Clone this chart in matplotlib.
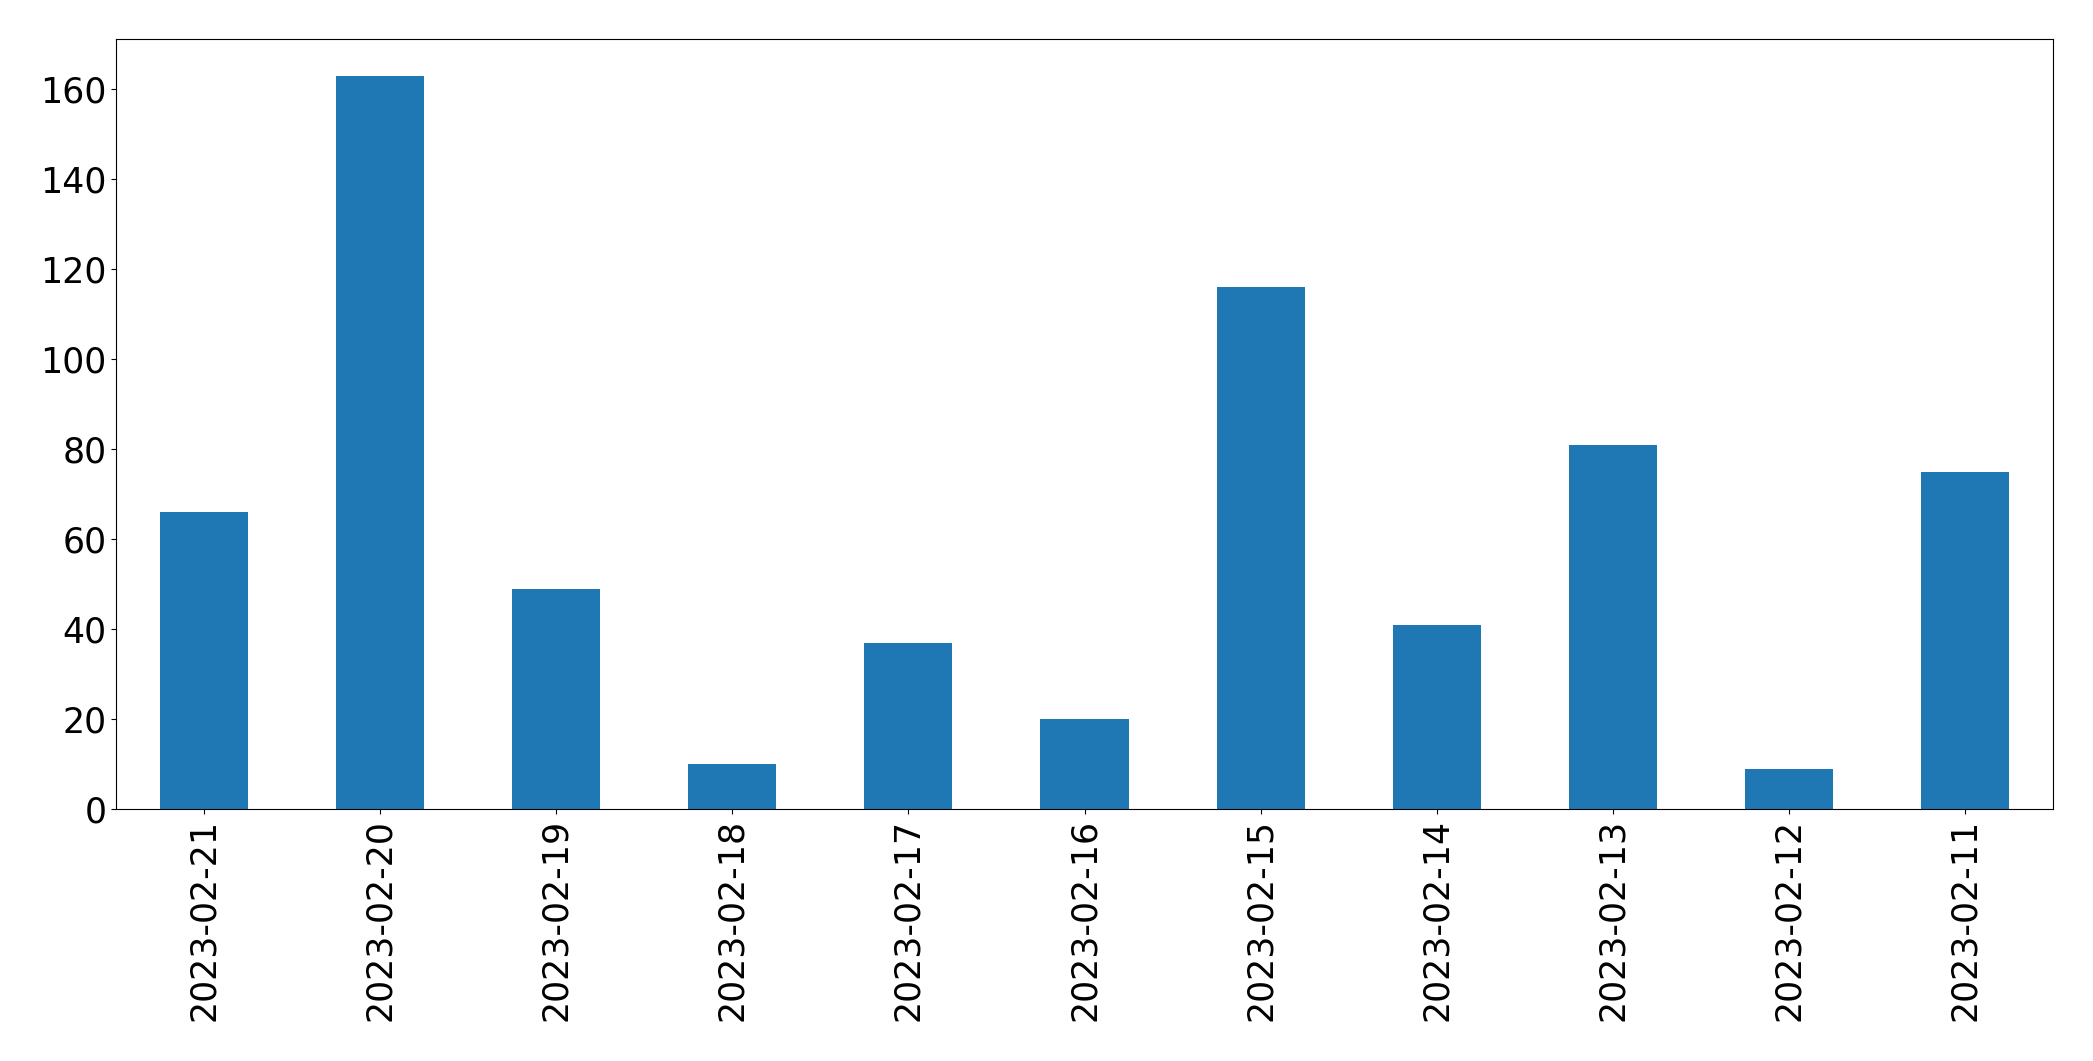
import pandas as pd
import matplotlib
matplotlib.use("Agg")
import matplotlib.pyplot as plt

dates = ["2023-02-21", "2023-02-20", "2023-02-19", "2023-02-18", "2023-02-17", "2023-02-16",
         "2023-02-15", "2023-02-14", "2023-02-13", "2023-02-12", "2023-02-11"]
counts = [66, 163, 49, 10, 37, 20, 116, 41, 81, 9, 75]

s = pd.Series(counts, index=dates)

fig = plt.figure(figsize=(20.93, 10.61), dpi=100)
ax = fig.add_axes([116 / 2093, 1 - 809 / 1061, (2053 - 116) / 2093, (809 - 39) / 1061])
s.plot(kind="bar", ax=ax, color="#1f77b4")
ax.tick_params(axis="both", labelsize=25)

fig.savefig("out.png", dpi=100)
